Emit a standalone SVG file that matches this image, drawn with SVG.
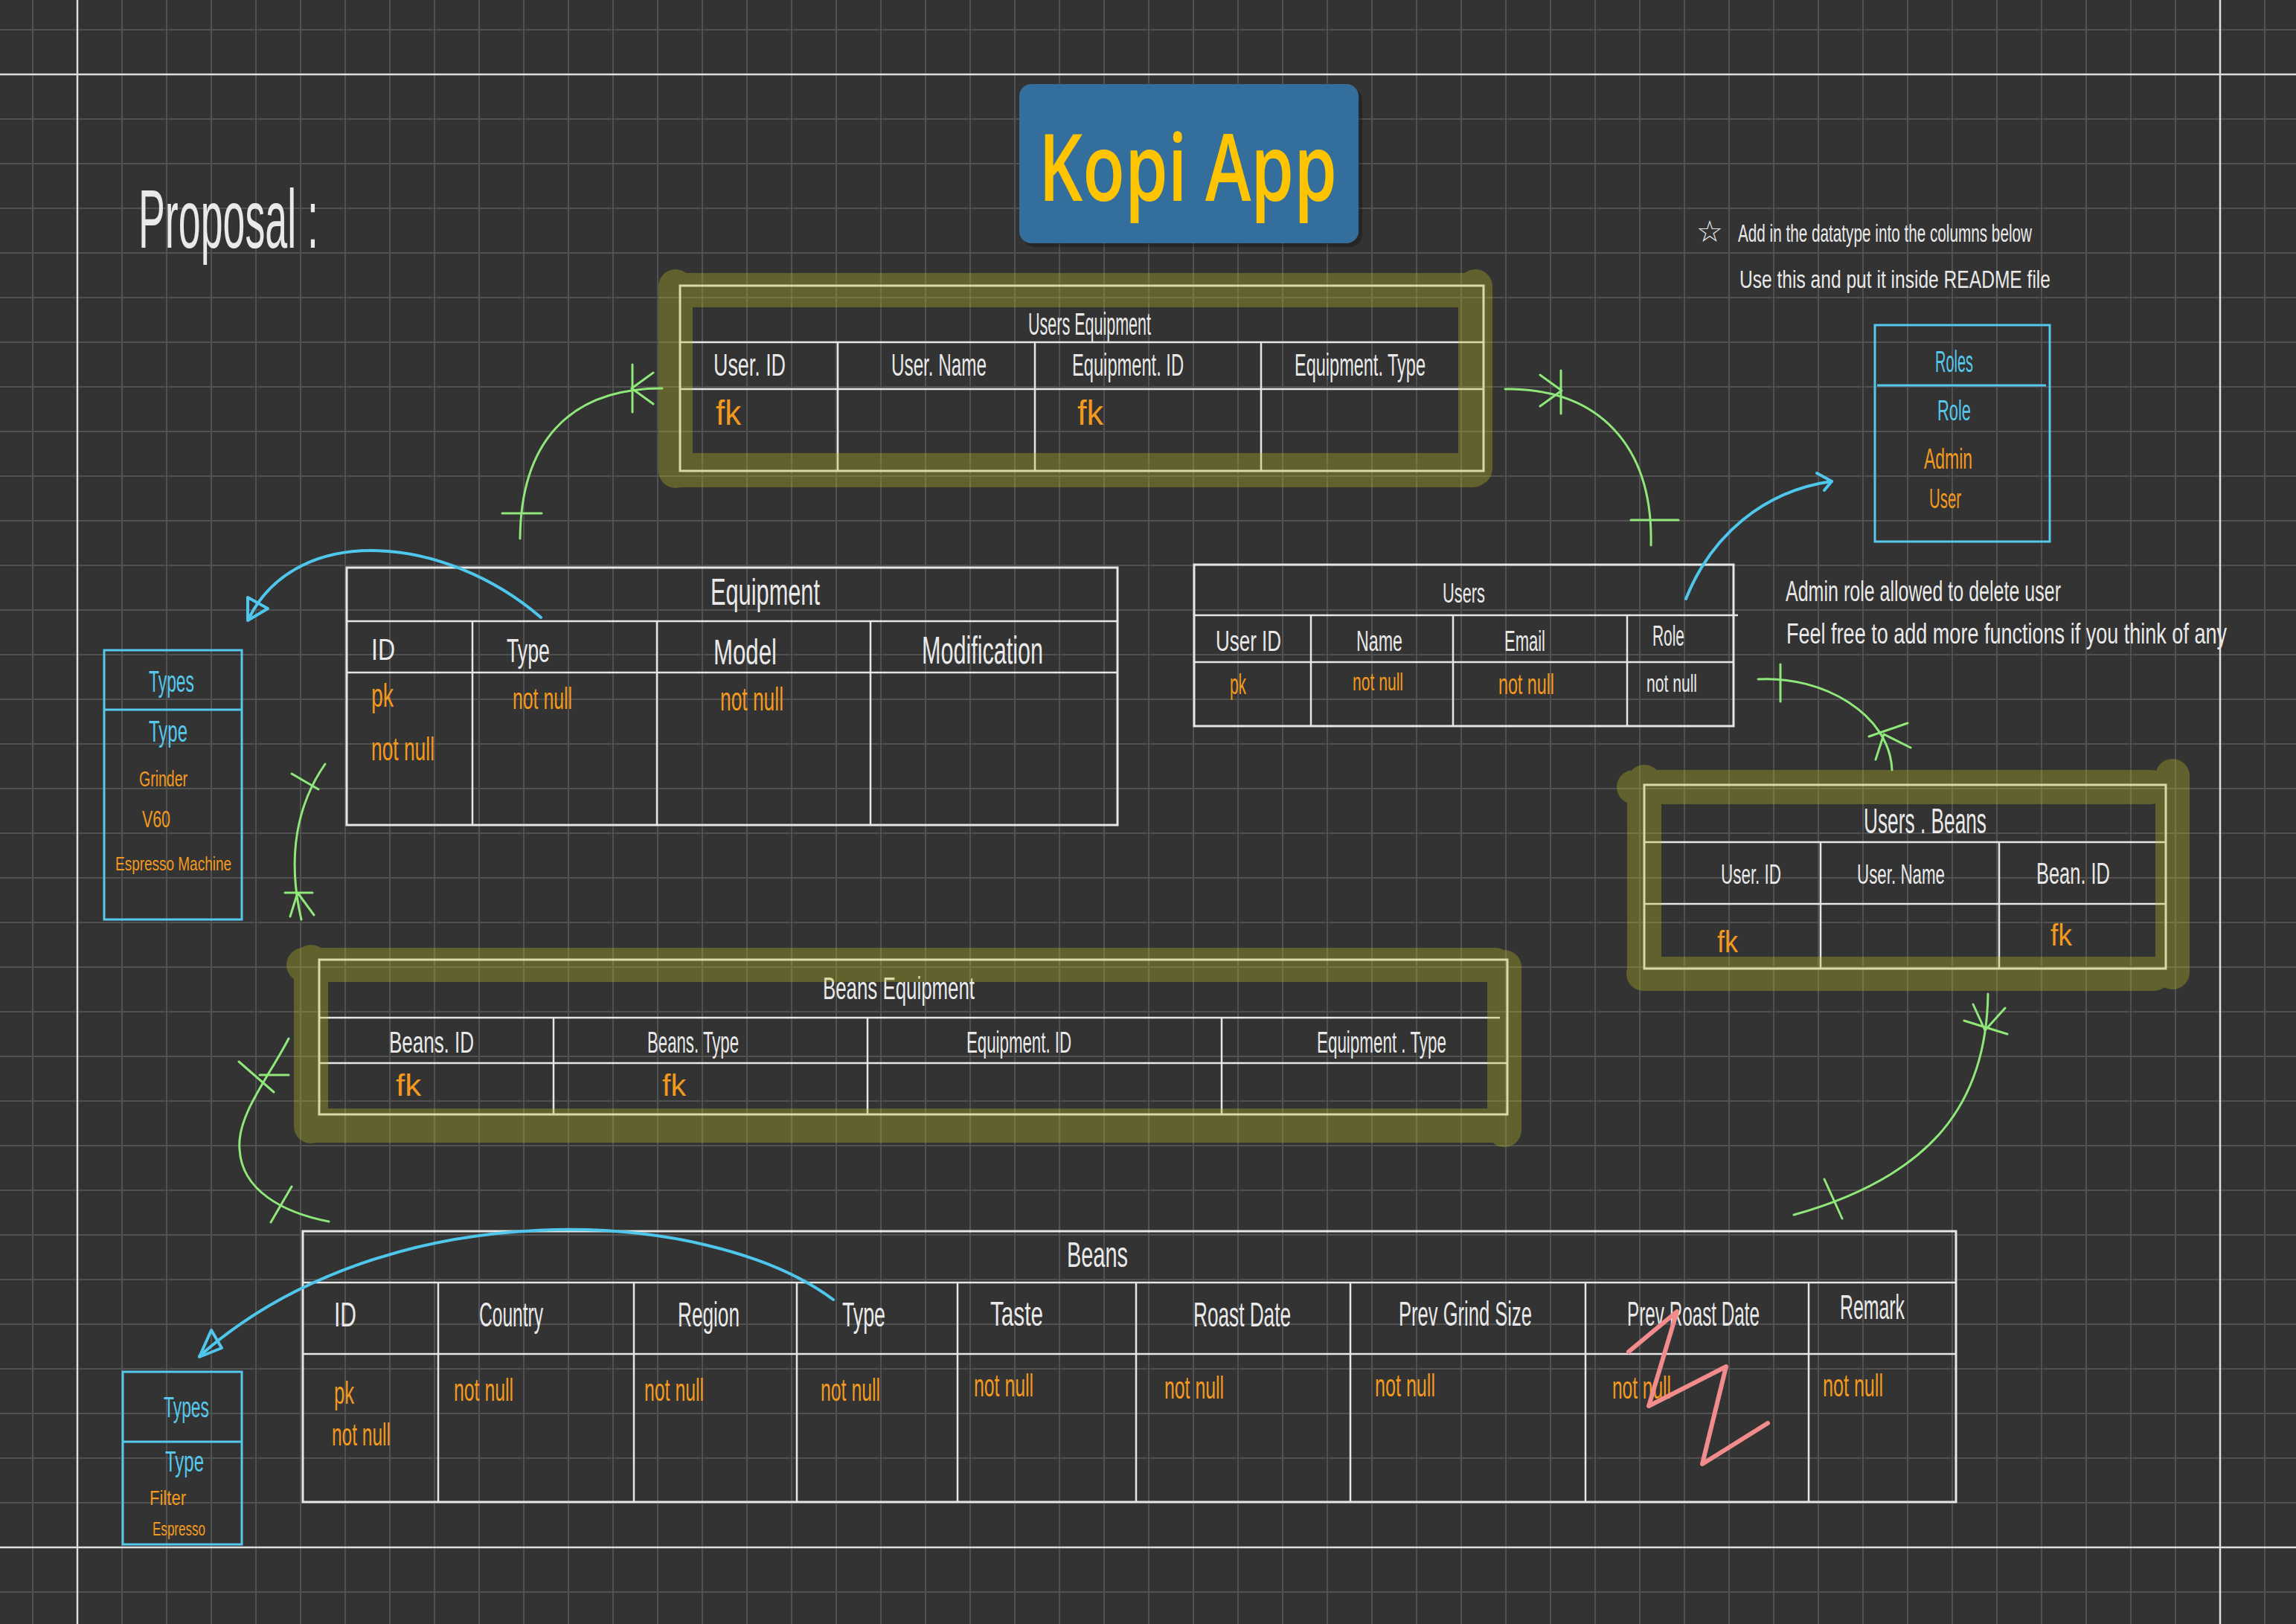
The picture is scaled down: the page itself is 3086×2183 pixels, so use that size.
<svg xmlns="http://www.w3.org/2000/svg" width="3086" height="2183" viewBox="0 0 3086 2183">
<defs>
<pattern id="grid" x="43" y="39" width="60" height="60" patternUnits="userSpaceOnUse">
<path d="M0,1 H60 M1,0 V60" stroke="#515151" stroke-width="2" fill="none"/>
</pattern>
</defs>
<style>
text { font-family: "Liberation Sans", "DejaVu Sans", sans-serif; }
.w { fill: #e9e9e9; }
.o { fill: #f39a1e; }
.c { fill: #55c8ec; }
.tb { fill: none; stroke: #e6e6e6; stroke-width: 3; }
.tl { fill: none; stroke: #e6e6e6; stroke-width: 2.5; }
.cy { fill: none; stroke: #55c8ec; stroke-width: 3; }
.hl { fill: none; stroke: rgb(190,190,35); stroke-opacity: 0.33; stroke-width: 46; stroke-linecap: round; }
.g { fill: none; stroke: #8fe879; stroke-width: 3; stroke-linecap: round; }
.b { fill: none; stroke: #4fc6ec; stroke-width: 4; stroke-linecap: round; stroke-linejoin: round; }
.major { stroke: #dedede; stroke-width: 2.5; }
</style>
<rect x="0" y="0" width="3086" height="2183" fill="#333333"/>
<rect x="0" y="0" width="3086" height="2183" fill="url(#grid)"/>
<path class="major" d="M0,100 H3086 M0,2080 H3086 M104,0 V2183 M2984,0 V2183"/>

<text class="w" x="186" y="333" font-size="112" textLength="242" lengthAdjust="spacingAndGlyphs">Proposal :</text>

<g id="title">
<rect x="1375" y="118" width="456" height="214" rx="16" fill="#000" opacity="0.25"/>
<rect x="1370" y="113" width="456" height="214" rx="16" fill="#336e9c"/>
<text x="1396" y="270" font-size="125" font-weight="600" fill="#ffc400" style="font-family:'Open Sans','Liberation Sans',sans-serif" textLength="401" lengthAdjust="spacingAndGlyphs">Kopi App</text>
</g>

<g id="notes-top">
<text class="w" x="2280" y="325" font-size="40" style="font-family:'DejaVu Sans',sans-serif">☆</text>
<text class="w" x="2336" y="325" font-size="34" textLength="395" lengthAdjust="spacingAndGlyphs">Add in the datatype into the columns below</text>
<text class="w" x="2338" y="387" font-size="34" textLength="418" lengthAdjust="spacingAndGlyphs">Use this and put it inside README file</text>
</g>

<g id="notes-admin">
<text class="w" x="2400" y="808" font-size="38" textLength="370" lengthAdjust="spacingAndGlyphs">Admin role allowed to delete user</text>
<text class="w" x="2401" y="865" font-size="38" textLength="592" lengthAdjust="spacingAndGlyphs">Feel free to add more functions if you think of any</text>
</g>

<g id="users-equipment">
<rect class="tb" x="914" y="384" width="1080" height="249"/>
<path class="tl" d="M914,460 H1994 M914,523 H1994 M1126,460 V633 M1391,460 V633 M1695,460 V633"/>
<text class="w" x="1382" y="450" font-size="42" textLength="165" lengthAdjust="spacingAndGlyphs">Users Equipment</text>
<text class="w" x="959" y="505" font-size="42" textLength="97" lengthAdjust="spacingAndGlyphs">User. ID</text>
<text class="w" x="1198" y="505" font-size="42" textLength="128" lengthAdjust="spacingAndGlyphs">User. Name</text>
<text class="w" x="1441" y="505" font-size="42" textLength="150" lengthAdjust="spacingAndGlyphs">Equipment. ID</text>
<text class="w" x="1740" y="505" font-size="42" textLength="176" lengthAdjust="spacingAndGlyphs">Equipment. Type</text>
<text class="o" x="962" y="571" font-size="46" textLength="34" lengthAdjust="spacingAndGlyphs">fk</text>
<text class="o" x="1448" y="571" font-size="46" textLength="35" lengthAdjust="spacingAndGlyphs">fk</text>
<path class="hl" d="M910,390 H1980 M910,632 H1980 M908,385 V633 M1983,385 V630"/>
</g>

<g id="equipment">
<rect class="tb" x="466" y="763" width="1036" height="346"/>
<path class="tl" d="M466,835 H1502 M466,904 H1502 M635,835 V1109 M883,835 V1109 M1170,835 V1109"/>
<text class="w" x="955" y="813" font-size="50" textLength="147" lengthAdjust="spacingAndGlyphs">Equipment</text>
<text class="w" x="499" y="887" font-size="40" textLength="32" lengthAdjust="spacingAndGlyphs">ID</text>
<text class="w" x="681" y="890" font-size="44" textLength="58" lengthAdjust="spacingAndGlyphs">Type</text>
<text class="w" x="959" y="893" font-size="48" textLength="85" lengthAdjust="spacingAndGlyphs">Model</text>
<text class="w" x="1239" y="892" font-size="52" textLength="163" lengthAdjust="spacingAndGlyphs">Modification</text>
<text class="o" x="499" y="950" font-size="44" textLength="30" lengthAdjust="spacingAndGlyphs">pk</text>
<text class="o" x="499" y="1022" font-size="44" textLength="85" lengthAdjust="spacingAndGlyphs">not null</text>
<text class="o" x="689" y="953" font-size="40" textLength="80" lengthAdjust="spacingAndGlyphs">not null</text>
<text class="o" x="968" y="955" font-size="44" textLength="85" lengthAdjust="spacingAndGlyphs">not null</text>
</g>

<g id="types-equipment">
<rect class="cy" x="140" y="874" width="185" height="362"/>
<path class="cy" d="M140,954 H325"/>
<text class="c" x="200" y="930" font-size="40" textLength="61" lengthAdjust="spacingAndGlyphs">Types</text>
<text class="c" x="200" y="997" font-size="40" textLength="52" lengthAdjust="spacingAndGlyphs">Type</text>
<text class="o" x="187" y="1057" font-size="30" textLength="65" lengthAdjust="spacingAndGlyphs">Grinder</text>
<text class="o" x="191" y="1112" font-size="32" textLength="38" lengthAdjust="spacingAndGlyphs">V60</text>
<text class="o" x="155" y="1170" font-size="26" textLength="156" lengthAdjust="spacingAndGlyphs">Espresso Machine</text>
</g>

<g id="roles">
<rect class="cy" x="2520" y="437" width="235" height="291"/>
<path class="cy" d="M2523,518 H2750"/>
<text class="c" x="2601" y="500" font-size="40" textLength="51" lengthAdjust="spacingAndGlyphs">Roles</text>
<text class="c" x="2604" y="565" font-size="38" textLength="45" lengthAdjust="spacingAndGlyphs">Role</text>
<text class="o" x="2586" y="630" font-size="38" textLength="65" lengthAdjust="spacingAndGlyphs">Admin</text>
<text class="o" x="2593" y="683" font-size="36" textLength="43" lengthAdjust="spacingAndGlyphs">User</text>
</g>

<g id="users">
<rect class="tb" x="1605" y="759" width="725" height="217"/>
<path class="tl" d="M1605,827 H2336 M1605,890 H2330 M1762,827 V976 M1953,827 V976 M2187,827 V976"/>
<text class="w" x="1939" y="810" font-size="36" textLength="57" lengthAdjust="spacingAndGlyphs">Users</text>
<text class="w" x="1634" y="875" font-size="38" textLength="88" lengthAdjust="spacingAndGlyphs">User ID</text>
<text class="w" x="1823" y="875" font-size="38" textLength="62" lengthAdjust="spacingAndGlyphs">Name</text>
<text class="w" x="2022" y="875" font-size="38" textLength="55" lengthAdjust="spacingAndGlyphs">Email</text>
<text class="w" x="2221" y="868" font-size="38" textLength="43" lengthAdjust="spacingAndGlyphs">Role</text>
<text class="o" x="1653" y="933" font-size="38" textLength="22" lengthAdjust="spacingAndGlyphs">pk</text>
<text class="o" x="1818" y="928" font-size="34" textLength="68" lengthAdjust="spacingAndGlyphs">not null</text>
<text class="o" x="2014" y="933" font-size="38" textLength="75" lengthAdjust="spacingAndGlyphs">not null</text>
<text class="w" x="2213" y="930" font-size="34" textLength="68" lengthAdjust="spacingAndGlyphs">not null</text>
</g>

<g id="users-beans">
<rect class="tb" x="2210" y="1055" width="701" height="247"/>
<path class="tl" d="M2210,1132 H2911 M2210,1215 H2911 M2447,1132 V1302 M2687,1132 V1302"/>
<text class="w" x="2505" y="1120" font-size="48" textLength="165" lengthAdjust="spacingAndGlyphs">Users . Beans</text>
<text class="w" x="2313" y="1188" font-size="36" textLength="81" lengthAdjust="spacingAndGlyphs">User. ID</text>
<text class="w" x="2496" y="1188" font-size="36" textLength="118" lengthAdjust="spacingAndGlyphs">User. Name</text>
<text class="w" x="2737" y="1188" font-size="40" textLength="99" lengthAdjust="spacingAndGlyphs">Bean. ID</text>
<text class="o" x="2308" y="1280" font-size="40" textLength="28" lengthAdjust="spacingAndGlyphs">fk</text>
<text class="o" x="2756" y="1271" font-size="40" textLength="29" lengthAdjust="spacingAndGlyphs">fk</text>
<path class="hl" d="M2196,1058 H2892 M2209,1309 H2895 M2210,1051 V1307 M2920,1043 V1307"/>
</g>

<g id="beans-equipment">
<rect class="tb" x="429" y="1290" width="1597" height="208"/>
<path class="tl" d="M429,1368 H2016 M429,1429 H2026 M744,1368 V1498 M1166,1368 V1498 M1642,1368 V1498"/>
<text class="w" x="1106" y="1343" font-size="42" textLength="204" lengthAdjust="spacingAndGlyphs">Beans Equipment</text>
<text class="w" x="523" y="1415" font-size="40" textLength="114" lengthAdjust="spacingAndGlyphs">Beans. ID</text>
<text class="w" x="870" y="1415" font-size="40" textLength="123" lengthAdjust="spacingAndGlyphs">Beans. Type</text>
<text class="w" x="1299" y="1415" font-size="40" textLength="141" lengthAdjust="spacingAndGlyphs">Equipment. ID</text>
<text class="w" x="1770" y="1415" font-size="40" textLength="174" lengthAdjust="spacingAndGlyphs">Equipment . Type</text>
<text class="o" x="532" y="1473" font-size="40" textLength="34" lengthAdjust="spacingAndGlyphs">fk</text>
<text class="o" x="890" y="1473" font-size="40" textLength="32" lengthAdjust="spacingAndGlyphs">fk</text>
<path class="hl" d="M408,1297 H2010 M418,1513 H2021 M418,1293 V1514 M2022,1300 V1519"/>
</g>

<g id="beans">
<rect class="tb" x="407" y="1655" width="2222" height="364"/>
<path class="tl" d="M407,1724 H2629 M407,1820 H2629 M589,1724 V2019 M852,1724 V2019 M1071,1724 V2019 M1287,1724 V2019 M1527,1724 V2019 M1815,1724 V2019 M2131,1724 V2019 M2431,1724 V2019"/>
<text class="w" x="1434" y="1703" font-size="48" textLength="82" lengthAdjust="spacingAndGlyphs">Beans</text>
<text class="w" x="449" y="1783" font-size="46" textLength="30" lengthAdjust="spacingAndGlyphs">ID</text>
<text class="w" x="644" y="1783" font-size="46" textLength="86" lengthAdjust="spacingAndGlyphs">Country</text>
<text class="w" x="911" y="1783" font-size="46" textLength="83" lengthAdjust="spacingAndGlyphs">Region</text>
<text class="w" x="1132" y="1783" font-size="46" textLength="58" lengthAdjust="spacingAndGlyphs">Type</text>
<text class="w" x="1331" y="1782" font-size="46" textLength="71" lengthAdjust="spacingAndGlyphs">Taste</text>
<text class="w" x="1604" y="1783" font-size="46" textLength="131" lengthAdjust="spacingAndGlyphs">Roast Date</text>
<text class="w" x="1880" y="1782" font-size="46" textLength="179" lengthAdjust="spacingAndGlyphs">Prev Grind Size</text>
<text class="w" x="2187" y="1782" font-size="46" textLength="178" lengthAdjust="spacingAndGlyphs">Prev Roast Date</text>
<text class="w" x="2473" y="1773" font-size="46" textLength="87" lengthAdjust="spacingAndGlyphs">Remark</text>
<text class="o" x="449" y="1887" font-size="42" textLength="27" lengthAdjust="spacingAndGlyphs">pk</text>
<text class="o" x="446" y="1943" font-size="42" textLength="79" lengthAdjust="spacingAndGlyphs">not null</text>
<text class="o" x="610" y="1883" font-size="42" textLength="80" lengthAdjust="spacingAndGlyphs">not null</text>
<text class="o" x="866" y="1883" font-size="42" textLength="80" lengthAdjust="spacingAndGlyphs">not null</text>
<text class="o" x="1103" y="1883" font-size="42" textLength="80" lengthAdjust="spacingAndGlyphs">not null</text>
<text class="o" x="1309" y="1877" font-size="42" textLength="80" lengthAdjust="spacingAndGlyphs">not null</text>
<text class="o" x="1565" y="1880" font-size="42" textLength="80" lengthAdjust="spacingAndGlyphs">not null</text>
<text class="o" x="1848" y="1877" font-size="42" textLength="81" lengthAdjust="spacingAndGlyphs">not null</text>
<text class="o" x="2167" y="1880" font-size="42" textLength="79" lengthAdjust="spacingAndGlyphs">not null</text>
<text class="o" x="2450" y="1877" font-size="42" textLength="81" lengthAdjust="spacingAndGlyphs">not null</text>
</g>

<g id="types-beans">
<rect class="cy" x="165" y="1844" width="160" height="232"/>
<path class="cy" d="M165,1938 H325"/>
<text class="c" x="220" y="1905" font-size="38" textLength="61" lengthAdjust="spacingAndGlyphs">Types</text>
<text class="c" x="222" y="1978" font-size="38" textLength="52" lengthAdjust="spacingAndGlyphs">Type</text>
<text class="o" x="201" y="2023" font-size="28" textLength="49" lengthAdjust="spacingAndGlyphs">Filter</text>
<text class="o" x="205" y="2064" font-size="26" textLength="71" lengthAdjust="spacingAndGlyphs">Espresso</text>
</g>

<g id="connectors">
<!-- Equipment to Users Equipment -->
<path class="g" d="M699,724 C700,600 760,522 890,522"/>
<path class="g" d="M675,690 H728 M850,490 V554 M849,522 L878,501 M849,522 L878,543"/>
<!-- Users Equipment to Users -->
<path class="g" d="M2023,523 C2150,522 2222,600 2219,733"/>
<path class="g" d="M2098,498 V556 M2070,504 L2099,525 M2070,546 L2099,525 M2192,699 H2256"/>
<!-- Users to Users.Beans -->
<path class="g" d="M2363,913 C2450,908 2540,960 2543,1035"/>
<path class="g" d="M2393,893 V943 M2512,990 L2564,972 M2532,987 L2568,1005 M2532,987 L2521,1021"/>
<!-- Users.Beans to Beans -->
<path class="g" d="M2672,1336 C2670,1480 2600,1580 2411,1633"/>
<path class="g" d="M2640,1372 L2698,1390 M2668,1385 L2652,1350 M2668,1385 L2695,1355 M2452,1585 L2476,1638"/>
<!-- Equipment to Beans Equipment -->
<path class="g" d="M437,1027 C400,1080 385,1150 405,1236"/>
<path class="g" d="M392,1040 L428,1061 M383,1200 H420 M400,1200 L390,1232 M400,1200 L422,1230"/>
<!-- Beans Equipment to Beans -->
<path class="g" d="M388,1396 C360,1450 318,1500 322,1545 C325,1600 380,1630 442,1642"/>
<path class="g" d="M321,1427 L368,1468 M349,1445 H388 M392,1595 L364,1643"/>
<!-- Equipment.Type to Types -->
<path class="b" d="M727,830 C600,720 400,700 334,832"/>
<path class="b" d="M333,803 L333,834 L360,818 Z"/>
<!-- Users.Role to Roles -->
<path class="b" d="M2266,805 C2300,720 2370,660 2462,647"/>
<path class="b" d="M2442,636 L2462,647 L2452,659"/>
<!-- Beans.Type to Types -->
<path class="b" d="M1120,1747 C950,1620 520,1600 268,1823"/>
<path class="b" d="M284,1788 L268,1824 L298,1812 Z"/>
</g>

<g id="strike-mark">
<path d="M2189,1817 L2254,1763 L2216,1890 L2320,1837 L2288,1968 L2376,1913" fill="none" stroke="#f28b8b" stroke-width="6" stroke-linecap="round" stroke-linejoin="round"/>
</g>
</svg>
